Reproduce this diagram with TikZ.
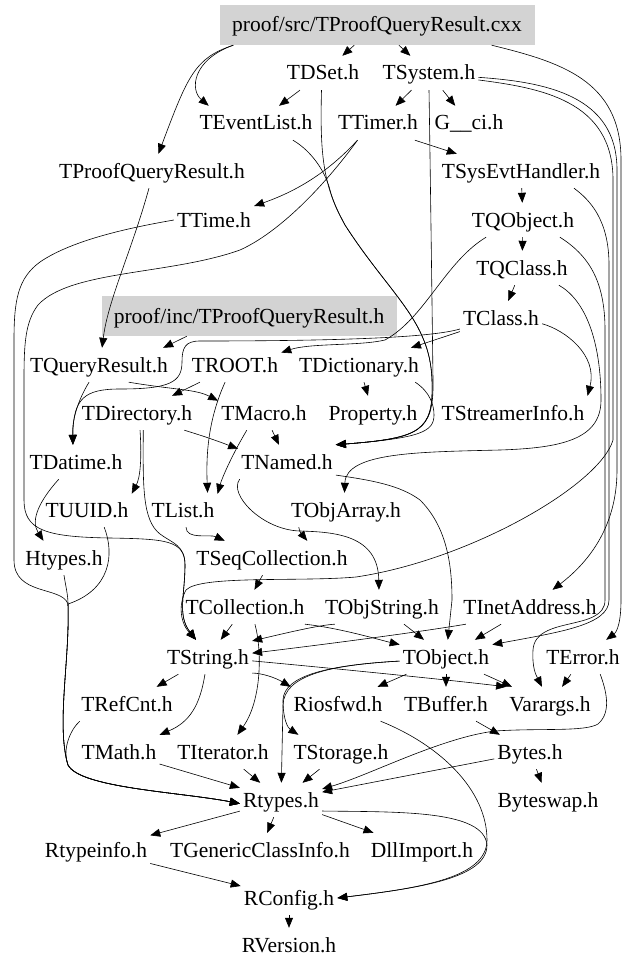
\documentclass[tikz,border=0pt]{standalone}
\usepackage{fontspec}
\setmainfont{Liberation Serif}
\usepackage{xcolor}
\usetikzlibrary{arrows.meta}
\definecolor{boxgray}{RGB}{211,211,211}

\begin{document}
\begin{tikzpicture}[
		x=1pt, y=1pt,
		font=\fontsize{21.5}{25}\selectfont,
		hdr/.style={inner xsep=3pt, inner ysep=0pt,
			text height=17pt, text depth=3pt,
			minimum height=34pt},
		srcbox/.style={hdr, fill=boxgray, minimum height=40pt},
		dep/.style={-{Triangle[length=10pt,width=8pt]}, line width=0.6pt},
		]
		\useasboundingbox (0,0) rectangle (636,-971);
		
		\node[srcbox, minimum width=315pt] (cxx) at (377,-25) {proof/src/TProofQueryResult.cxx};
		\node[hdr] (tdset) at (323,-73) {TDSet.h};
		\node[hdr] (tsystem) at (429,-73) {TSystem.h};
		\node[hdr] (teventlist) at (256,-123) {TEventList.h};
		\node[hdr] (ttimer) at (378,-123) {TTimer.h};
		\node[hdr] (gci) at (469,-123) {G\_\_ci.h};
		\node[hdr] (tpqr) at (152,-171) {TProofQueryResult.h};
		\node[hdr] (tsysevt) at (521,-171) {TSysEvtHandler.h};
		\node[hdr] (ttime) at (214,-220) {TTime.h};
		\node[hdr] (tqobject) at (523,-220) {TQObject.h};
		\node[hdr] (tqclass) at (522,-268) {TQClass.h};
		\node[srcbox, minimum width=295pt] (incbox) at (249,-316) {proof/inc/TProofQueryResult.h};
		\node[hdr] (tclass) at (501,-318) {TClass.h};
		\node[hdr] (tqueryres) at (99,-365) {TQueryResult.h};
		\node[hdr] (troot) at (235,-365) {TROOT.h};
		\node[hdr] (tdict) at (359,-365) {TDictionary.h};
		\node[hdr] (tdir) at (137,-413) {TDirectory.h};
		\node[hdr] (tmacro) at (264,-413) {TMacro.h};
		\node[hdr] (tprop) at (373,-413) {Property.h};
		\node[hdr] (tstreamer) at (513,-413) {TStreamerInfo.h};
		\node[hdr] (tdatime) at (76,-462) {TDatime.h};
		\node[hdr] (tnamed) at (287,-462) {TNamed.h};
		\node[hdr] (tuuid) at (87,-510) {TUUID.h};
		\node[hdr] (tlist) at (183,-510) {TList.h};
		\node[hdr] (tobjarray) at (346,-510) {TObjArray.h};
		\node[hdr] (htypes) at (64,-558) {Htypes.h};
		\node[hdr] (tseqcoll) at (272,-558) {TSeqCollection.h};
		\node[hdr] (tcoll) at (245,-607) {TCollection.h};
		\node[hdr] (tobjstr) at (382,-607) {TObjString.h};
		\node[hdr] (tinet) at (530,-607) {TInetAddress.h};
		\node[hdr] (tstring) at (208,-657) {TString.h};
		\node[hdr] (tobject) at (446,-657) {TObject.h};
		\node[hdr] (terror) at (583,-657) {TError.h};
		\node[hdr] (trefcnt) at (127,-704) {TRefCnt.h};
		\node[hdr] (riosfwd) at (338,-704) {Riosfwd.h};
		\node[hdr] (tbuffer) at (446,-704) {TBuffer.h};
		\node[hdr] (varargs) at (550,-704) {Varargs.h};
		\node[hdr] (tmath) at (119,-752) {TMath.h};
		\node[hdr] (titer) at (223,-752) {TIterator.h};
		\node[hdr] (tstorage) at (341,-752) {TStorage.h};
		\node[hdr] (bytes) at (530,-752) {Bytes.h};
		\node[hdr] (rtypes) at (281,-800) {Rtypes.h};
		\node[hdr] (byteswap) at (548,-800) {Byteswap.h};
		\node[hdr] (rtypeinfo) at (96,-850) {Rtypeinfo.h};
		\node[hdr] (tgci) at (260,-850) {TGenericClassInfo.h};
		\node[hdr] (dllimport) at (422,-850) {DllImport.h};
		\node[hdr] (rconfig) at (289,-898) {RConfig.h};
		\node[hdr] (rversion) at (289,-945) {RVersion.h};
		
		% top rows
		\draw[dep] (cxx.188) .. controls (195,-58) and (188,-75) .. (tpqr);
		\draw[dep] (cxx.188) .. controls (192,-60) and (190,-90) .. (teventlist.160);
		\draw[dep] (cxx) -- (tdset);
		\draw[dep] (cxx) -- (tsystem);
		\draw[dep] (cxx.-10) .. controls (560,-62) and (621,-80) .. (621,-160) -- (621,-600) .. controls (621,-630) and (614,-634) .. (terror);
		\draw[dep] (tdset) -- (teventlist);
		\draw[dep] (tdset.-95) .. controls (320,-150) and (322,-185) .. (345,-225) .. controls (390,-295) and (430,-320) .. (432,-380) .. controls (434,-432) and (420,-438) .. (tnamed.north east);
		\draw[dep] (teventlist.-25) .. controls (310,-150) and (325,-170) .. (330,-190) .. controls (334,-205) and (340,-215) .. (345,-225) .. controls (390,-295) and (430,-320) .. (432,-380) .. controls (434,-432) and (420,-438) .. (tnamed.north east);
		\draw[dep] (tsystem) -- (ttimer);
		\draw[dep] (tsystem) -- (gci);
		\draw[dep] (tsystem.south) .. controls (430,-150) and (432,-300) .. (433,-380) .. controls (434,-432) and (420,-438) .. (tnamed.north east);
		\draw[dep] (tsystem.-5) .. controls (545,-82) and (617,-95) .. (617,-170) -- (617,-470) .. controls (617,-530) and (585,-565) .. (tinet);
		\draw[dep] (tsystem.-8) .. controls (540,-88) and (613,-100) .. (613,-180) -- (613,-440) .. controls (600,-485) and (470,-560) .. (356,-577) .. controls (300,-582) and (200,-575) .. (186,-590) .. controls (180,-600) and (178,-620) .. (tstring.125);
		\draw[dep] (ttimer.-25) -- (tsysevt.165);
		\draw[dep] (ttimer.220) .. controls (330,-170) and (300,-190) .. (ttime);
		\draw[dep] (ttimer.220) .. controls (325,-185) and (280,-232) .. (240,-250) .. controls (170,-275) and (70,-270) .. (38,-305) .. controls (25,-322) and (24,-345) .. (24,-380) -- (24,-500) .. controls (24,-530) and (45,-537) .. (110,-538) .. controls (165,-539) and (185,-540) .. (185,-565) .. controls (185,-595) and (177,-615) .. (tstring.125);
		\draw[dep] (ttime.west) .. controls (140,-226) and (75,-238) .. (40,-262) .. controls (18,-278) and (14,-300) .. (14,-340) -- (14,-560) .. controls (14,-596) and (62,-586) .. (68,-604) .. controls (70,-660) and (56,-725) .. (68,-765) .. controls (80,-788) and (180,-792) .. (rtypes.185);
		
		% right hand side
		\draw[dep] (tsysevt) -- (tqobject);
		\draw[dep] (tsysevt.-18) .. controls (590,-200) and (609,-220) .. (609,-265) -- (609,-600) .. controls (609,-625) and (560,-632) .. (tobject.15);
		\draw[dep] (tqobject) -- (tqclass);
		\draw[dep] (tqobject.-25) .. controls (588,-255) and (605,-280) .. (605,-330) -- (605,-600) .. controls (605,-632) and (535,-615) .. (533,-650) .. controls (532,-668) and (536,-675) .. (varargs.115);
		\draw[dep] (tqobject.205) .. controls (445,-262) and (425,-318) .. (385,-340) .. controls (360,-346) and (310,-343) .. (troot.15);
		\draw[dep] (tqclass) -- (tclass);
		\draw[dep] (tqclass.-25) .. controls (585,-300) and (601,-340) .. (601,-400) .. controls (601,-440) and (560,-448) .. (500,-450) .. controls (420,-452) and (346,-452) .. (tobjarray.95);
		\draw[dep] (tclass) -- (tdict);
		\draw[dep] (tclass.-8) .. controls (565,-330) and (598,-355) .. (tstreamer.north east);
		\draw[dep] (tclass.195) .. controls (430,-338) and (330,-341) .. (200,-341) .. controls (185,-341) and (182,-348) .. (182,-362) .. controls (182,-382) and (170,-389) .. (120,-389) .. controls (85,-389) and (73,-398) .. (tdatime.100);
		
		% middle
		\draw[dep] (tpqr.-100) .. controls (132,-250) and (108,-300) .. (tqueryres.80);
		\draw[dep] (incbox.198) -- (tqueryres.15);
		\draw[dep] (tqueryres.240) .. controls (78,-400) and (72,-420) .. (tdatime.100);
		\draw[dep] (tqueryres.-30) .. controls (175,-390) and (195,-389) .. (tmacro.165);
		\draw[dep] (troot) -- (tdir);
		\draw[dep] (troot.240) .. controls (208,-420) and (206,-455) .. (tlist.35);
		\draw[dep] (tdict) -- (tprop);
		\draw[dep] (tdict.-17) .. controls (430,-392) and (434,-405) .. (434,-415) .. controls (434,-432) and (420,-438) .. (tnamed.north east);
		\draw[dep] (tmacro) -- (tnamed);
		\draw[dep] (tmacro.225) .. controls (232,-455) and (222,-478) .. (tlist.25);
		\draw[dep] (tdir.-20) .. controls (200,-435) and (215,-440) .. (tnamed.165);
		\draw[dep] (tdir.-80) .. controls (142,-460) and (140,-478) .. (tuuid.20);
		\draw[dep] (tdir.-70) .. controls (143,-485) and (142,-520) .. (160,-534) .. controls (172,-543) and (185,-545) .. (185,-565) .. controls (185,-595) and (177,-615) .. (tstring.125);
		\draw[dep] (tdatime.225) .. controls (40,-500) and (30,-520) .. (htypes.140);
		\draw[dep] (tnamed.-15) .. controls (370,-480) and (400,-485) .. (420,-500) .. controls (445,-525) and (452,-560) .. (452,-600) -- (tobject);
		\draw[dep] (tnamed.200) .. controls (228,-494) and (262,-530) .. (300,-531) .. controls (335,-532) and (378,-535) .. (tobjstr.100);
		\draw[dep] (tobjarray.200) .. controls (300,-532) .. (tseqcoll.26);
		\draw[dep] (tlist.-80) .. controls (186,-540) and (210,-534) .. (tseqcoll.160);
		\draw[dep] (htypes.south) .. controls (66,-588) and (68,-595) .. (68,-604) .. controls (70,-660) and (56,-725) .. (68,-765) .. controls (80,-788) and (180,-792) .. (rtypes.185);
		\draw[dep] (tuuid.-45) .. controls (115,-555) and (110,-590) .. (68,-604) .. controls (70,-660) and (56,-725) .. (68,-765) .. controls (80,-788) and (180,-792) .. (rtypes.185);
		
		% lower rows
		\draw[dep] (tseqcoll) -- (tcoll);
		\draw[dep] (tcoll) -- (tstring);
		\draw[dep] (tcoll.-60) .. controls (262,-650) and (262,-700) .. (titer.50);
		\draw[dep] (tcoll.-16) .. controls (340,-628) and (380,-640) .. (tobject.165);
		\draw[dep] (tobjstr.200) .. controls (320,-625) and (290,-632) .. (tstring.20);
		\draw[dep] (tobjstr) -- (tobject);
		\draw[dep] (tinet) -- (tobject);
		\draw[dep] (tinet.195) .. controls (420,-632) and (320,-645) .. (tstring.5);
		\draw[dep] (tstring) -- (trefcnt);
		\draw[dep] (tstring.-100) .. controls (200,-705) and (190,-722) .. (tmath.north east);
		\draw[dep] (tstring.-20) .. controls (262,-673) and (276,-678) .. (riosfwd.160);
		\draw[dep] (tstring.-5) .. controls (330,-668) and (450,-680) .. (varargs.north west);
		\draw[dep] (tobject) -- (riosfwd);
		\draw[dep] (tobject) -- (tbuffer);
		\draw[dep] (tobject) -- (varargs);
		\draw[dep] (tobject.185) .. controls (330,-665) and (284,-675) .. (283,-705) -- (rtypes);
		\draw[dep] (tobject.185) .. controls (330,-665) and (284,-675) .. (283,-700) .. controls (283,-720) and (288,-728) .. (tstorage.158);
		\draw[dep] (terror) -- (varargs);
		\draw[dep] (terror.-45) .. controls (606,-690) and (612,-712) .. (598,-724) .. controls (585,-732) and (540,-728) .. (495,-731) .. controls (440,-738) and (370,-775) .. (rtypes.15);
		\draw[dep] (trefcnt.200) .. controls (70,-730) and (62,-750) .. (68,-765) .. controls (80,-788) and (180,-792) .. (rtypes.185);
		\draw[dep] (tbuffer) -- (bytes);
		\draw[dep] (bytes) -- (byteswap);
		\draw[dep] (bytes) -- (rtypes);
		\draw[dep] (tmath) -- (rtypes);
		\draw[dep] (titer) -- (rtypes);
		\draw[dep] (tstorage) -- (rtypes);
		\draw[dep] (riosfwd.-22) .. controls (440,-745) and (487,-790) .. (487,-840) .. controls (487,-878) and (420,-888) .. (rconfig.east);
		\draw[dep] (rtypes.-15) .. controls (400,-812) and (484,-810) .. (487,-845) .. controls (487,-878) and (420,-888) .. (rconfig.east);
		\draw[dep] (rtypes) -- (rtypeinfo);
		\draw[dep] (rtypes) -- (tgci);
		\draw[dep] (rtypes) -- (dllimport);
		\draw[dep] (rtypeinfo) -- (rconfig);
		\draw[dep] (rconfig) -- (rversion);
		
	\end{tikzpicture}
\end{document}
